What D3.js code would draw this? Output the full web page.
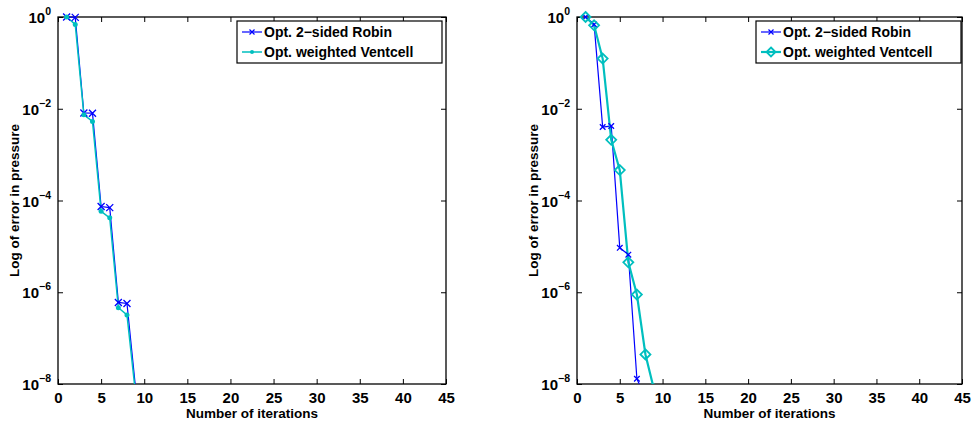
<!DOCTYPE html>
<html>
<head>
<meta charset="utf-8">
<script src="https://cdn.jsdelivr.net/npm/d3@7"></script>
<style>
body{margin:0;background:#fff;}
svg{display:block;}
text{font-family:"Liberation Sans",Arial,Helvetica,sans-serif;font-weight:bold;fill:#000;}
</style>
</head>
<body>
<svg id="chart" width="974" height="423"></svg>
<script>
// ---- data ----
const xTicks = [0,5,10,15,20,25,30,35,40,45];
const yTickExps = [0,-2,-4,-6,-8];
const seriesNames = ["Opt. 2\u2212sided Robin","Opt. weighted Ventcell"];
const iterLeft = [1,2,3,4,5,6,7,8,9];
const robinLeft = [1.0,0.98,8.1e-3,8.0e-3,7.4e-5,7.0e-5,6.0e-7,5.7e-7,8e-9];
const ventLeft  = [1.0,0.69,7.4e-3,5.3e-3,5.8e-5,4.2e-5,4.6e-7,3.2e-7,6e-9];
const iterRobinRight = [1,2,3,4,5,6,7,8];
const robinRight = [1.0,0.69,4.0e-3,4.2e-3,9.3e-6,6.6e-6,1.3e-8,5e-9];
const iterVentRight = [1,2,3,4,5,6,7,8,9];
const ventRight  = [1.0,0.66,0.124,2.1e-3,4.6e-4,4.5e-6,8.9e-7,4.4e-8,7.6e-9];

const blue = "#0000ff", cyan = "#00bfbf";
const svg = d3.select("#chart");

function panel(opt){
  const g = svg.append("g");
  const x = d3.scaleLinear().domain([0,45]).range([opt.x0, opt.x1]);
  const y = d3.scaleLog().domain([1e-8,1]).range([opt.y1, opt.y0]);
  const clipId2 = "clipb"+opt.id;
  svg.append("clipPath").attr("id",clipId2).append("rect")
    .attr("x",opt.x0-8).attr("y",0).attr("width",opt.x1-opt.x0+8).attr("height",opt.y1);

  // box
  g.append("rect").attr("x",opt.x0).attr("y",opt.y0).attr("width",opt.x1-opt.x0).attr("height",opt.y1-opt.y0)
    .attr("fill","none").attr("stroke","#000").attr("stroke-width",1.3);

  // x ticks (inward, bottom & top)
  const xb = d3.axisBottom(x).tickValues(xTicks).tickSizeInner(-5).tickSizeOuter(0).tickPadding(8);
  const gx = g.append("g").attr("transform",`translate(0,${opt.y1})`).call(xb);
  gx.select(".domain").remove();
  gx.selectAll("line").attr("stroke","#000");
  gx.selectAll("text").attr("font-size","15px").attr("font-family","Liberation Sans, Arial, sans-serif").attr("font-weight","bold").attr("fill","#000");
  const xt = d3.axisTop(x).tickValues(xTicks).tickSizeInner(-5).tickSizeOuter(0).tickFormat("");
  const gxt = g.append("g").attr("transform",`translate(0,${opt.y0})`).call(xt);
  gxt.select(".domain").remove();
  gxt.selectAll("line").attr("stroke","#000");

  // y ticks
  const yVals = yTickExps.map(e=>Math.pow(10,e));
  const yl = d3.axisLeft(y).tickValues(yVals).tickSizeInner(-5).tickSizeOuter(0).tickFormat("");
  const gy = g.append("g").attr("transform",`translate(${opt.x0},0)`).call(yl);
  gy.select(".domain").remove();
  gy.selectAll("line").attr("stroke","#000");
  const yr = d3.axisRight(y).tickValues(yVals).tickSizeInner(-5).tickSizeOuter(0).tickFormat("");
  const gyr = g.append("g").attr("transform",`translate(${opt.x1},0)`).call(yr);
  gyr.select(".domain").remove();
  gyr.selectAll("line").attr("stroke","#000");
  // y tick labels 10^e
  yTickExps.forEach(e=>{
    const t = g.append("text").attr("x",opt.x0-7).attr("y",y(Math.pow(10,e))+6)
      .attr("text-anchor","end");
    t.append("tspan").attr("font-size","15px").text("10");
    t.append("tspan").attr("font-size","10.5px").attr("dy",-8).text(e===0?"0":"\u2212"+(-e));
  });

  // labels
  g.append("text").attr("x",(opt.x0+opt.x1)/2).attr("y",418).attr("text-anchor","middle")
    .attr("font-size","13.5px").text("Number of iterations");
  g.append("text").attr("transform",`translate(${opt.x0-39},${(opt.y0+opt.y1)/2}) rotate(-90)`)
    .attr("text-anchor","middle").attr("font-size","13.5px").text("Log of error in pressure");

  // lines
  const line = d3.line().x(d=>x(d[0])).y(d=>y(d[1]));
  const dataR = opt.robinX.map((v,i)=>[v,opt.robin[i]]);
  const dataV = opt.ventX.map((v,i)=>[v,opt.vent[i]]);
  const lg = g.append("g").attr("clip-path",`url(#${clipId2})`);
  lg.append("path").datum(dataR).attr("d",line).attr("fill","none").attr("stroke",blue).attr("stroke-width",1.2);
  lg.append("path").datum(dataV).attr("d",line).attr("fill","none").attr("stroke",cyan).attr("stroke-width",opt.ventW);
  const mg = g.append("g").attr("clip-path",`url(#${clipId2})`);
  mg.selectAll(null).data(dataR).enter().append("path")
    .attr("d",d=>{const cx=x(d[0]),cy=y(d[1]),s=opt.xSize;return `M${cx-s},${cy-s}L${cx+s},${cy+s}M${cx-s},${cy+s}L${cx+s},${cy-s}`;})
    .attr("stroke",blue).attr("stroke-width",1.3).attr("fill","none");
  if(opt.bigDiamond){
    mg.selectAll(null).data(dataV).enter().append("path")
      .attr("d",d=>{const cx=x(d[0]),cy=y(d[1]),s=5;return `M${cx},${cy-s}L${cx+s},${cy}L${cx},${cy+s}L${cx-s},${cy}Z`;})
      .attr("stroke",cyan).attr("stroke-width",1.8).attr("fill","none");
  } else {
    mg.selectAll(null).data(dataV).enter().append("circle")
      .attr("cx",d=>x(d[0])).attr("cy",d=>y(d[1])).attr("r",2.5).attr("fill",cyan);
  }

  // legend
  const lx = opt.legX, ly = 21, lw = 205, lh = 42;
  const leg = g.append("g");
  leg.append("rect").attr("x",lx).attr("y",ly).attr("width",lw).attr("height",lh)
    .attr("fill","#fff").attr("stroke","#000").attr("stroke-width",1.2);
  const rows = [{c:blue,w:1.2,name:seriesNames[0],m:"x"},{c:cyan,w:opt.ventW,name:seriesNames[1],m:"v"}];
  rows.forEach((r,i)=>{
    const cy = ly + 11 + i*20;
    leg.append("line").attr("x1",lx+5).attr("x2",lx+25).attr("y1",cy).attr("y2",cy).attr("stroke",r.c).attr("stroke-width",r.w);
    const mx = lx+15;
    if(r.m==="x"){
      const s=2.5;
      leg.append("path").attr("d",`M${mx-s},${cy-s}L${mx+s},${cy+s}M${mx-s},${cy+s}L${mx+s},${cy-s}`).attr("stroke",blue).attr("stroke-width",1.2);
    } else if(opt.bigDiamond){
      const s=4.5;
      leg.append("path").attr("d",`M${mx},${cy-s}L${mx+s},${cy}L${mx},${cy+s}L${mx-s},${cy}Z`).attr("stroke",cyan).attr("stroke-width",1.8).attr("fill","none");
    } else {
      leg.append("circle").attr("cx",mx).attr("cy",cy).attr("r",2).attr("fill",cyan);
    }
    leg.append("text").attr("x",lx+27).attr("y",cy+5).attr("font-size","14px").text(r.name);
  });
}

panel({id:"L",x0:58,x1:446,y0:17,y1:384,robinX:iterLeft,robin:robinLeft,ventX:iterLeft,vent:ventLeft,ventW:1.5,bigDiamond:false,xSize:3.5,legX:237});
panel({id:"R",x0:577,x1:962,y0:17,y1:384,robinX:iterRobinRight,robin:robinRight,ventX:iterVentRight,vent:ventRight,ventW:2.2,bigDiamond:true,xSize:2.8,legX:756});
</script>
</body>
</html>
